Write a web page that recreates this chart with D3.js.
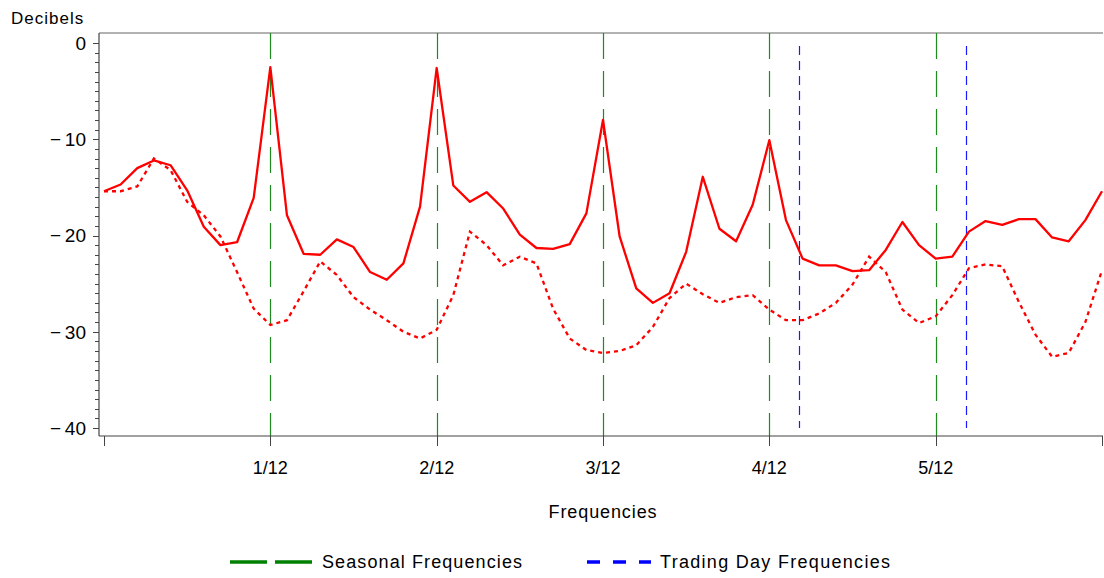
<!DOCTYPE html>
<html>
<head>
<meta charset="utf-8">
<script src="https://cdn.jsdelivr.net/npm/d3@7"></script>
<style>
  body { margin: 0; background: #fff; }
  svg text { font-family: "Liberation Sans", Arial, sans-serif; fill: #000; }
</style>
</head>
<body>
<svg id="chart" width="1104" height="578"></svg>
<script>
// spectrum values in decibels at frequencies 0, 1/120, ..., 60/120
const freqs = d3.range(61).map(i => i / 120);
const spectrum = [
  -15.4, -14.7, -13.0, -12.2, -12.7, -15.3, -19.1, -21.0, -20.7, -16.1,
  -2.5, -17.9, -21.9, -22.0, -20.4, -21.2, -23.8, -24.6, -22.9, -17.0,
  -2.6, -14.8, -16.5, -15.5, -17.2, -19.9, -21.3, -21.4, -20.9, -17.7,
  -8.0, -20.1, -25.5, -27.0, -26.0, -21.7, -13.9, -19.3, -20.6, -16.8,
  -10.1, -18.4, -22.4, -23.1, -23.1, -23.7, -23.6, -21.5, -18.6, -21.0,
  -22.4, -22.2, -19.6, -18.5, -18.9, -18.3, -18.3, -20.2, -20.6, -18.4,
  -15.4
];
const smoothed = [
  -15.4, -15.4, -14.9, -12.0, -13.2, -16.5, -17.9, -20.1, -23.8, -27.6,
  -29.3, -28.8, -25.8, -22.7, -24.1, -26.4, -27.7, -28.8, -30.0, -30.7,
  -29.8, -26.2, -19.6, -21.0, -23.1, -22.2, -22.9, -27.6, -30.7, -31.9,
  -32.2, -32.0, -31.4, -29.5, -26.5, -25.0, -26.1, -27.0, -26.4, -26.2,
  -27.7, -28.8, -28.8, -28.1, -27.0, -25.1, -22.2, -23.8, -27.7, -29.1,
  -28.4, -26.2, -23.4, -23.0, -23.2, -26.9, -30.3, -32.6, -32.2, -29.0,
  -23.6
];
const seasonalFreqs = [1, 2, 3, 4, 5].map(k => k / 12);
const tradingDayFreqs = [0.348, 0.432];
const xTickValues = [0, 1, 2, 3, 4, 5, 6].map(k => k / 12);
const xTickLabels = ['', '1/12', '2/12', '3/12', '4/12', '5/12', ''];
const yTickValues = [0, -10, -20, -30, -40];

const svg = d3.select('#chart');
const plotLeft = 99, plotRight = 1103, plotTop = 33, plotBottom = 436;

const x = d3.scaleLinear().domain([0, 0.5]).range([104, 1102]);
const y = d3.scaleLinear().domain([-40, 0]).range([428, 43]);

// frame
svg.append('line').attr('x1', plotLeft).attr('x2', plotRight).attr('y1', plotTop).attr('y2', plotTop)
  .attr('stroke', '#666').attr('stroke-width', 1.2);

// reference lines
svg.selectAll('line.seasonal').data(seasonalFreqs).enter().append('line')
  .attr('class', 'seasonal')
  .attr('x1', d => Math.round(x(d)) + 0.5).attr('x2', d => Math.round(x(d)) + 0.5)
  .attr('y1', plotTop).attr('y2', plotBottom)
  .attr('stroke', '#1f8a1f').attr('stroke-width', 1.2)
  .attr('stroke-dasharray', '26,12');

svg.selectAll('line.trading').data(tradingDayFreqs).enter().append('line')
  .attr('class', 'trading')
  .attr('x1', d => Math.round(x(d)) + 0.5).attr('x2', d => Math.round(x(d)) + 0.5)
  .attr('y1', y(0) + 3).attr('y2', y(-40))
  .attr('stroke', '#1a1aff').attr('stroke-width', 1.2)
  .attr('stroke-dasharray', '9,6');

// series
const line = d3.line().x((d, i) => x(freqs[i])).y(d => y(d));

svg.append('path').datum(smoothed)
  .attr('d', line).attr('fill', 'none')
  .attr('stroke', '#ff0000').attr('stroke-width', 2.3)
  .attr('stroke-dasharray', '4,4');

svg.append('path').datum(spectrum)
  .attr('d', line).attr('fill', 'none')
  .attr('stroke', '#ff0000').attr('stroke-width', 2.3)
  .attr('stroke-linejoin', 'round');

// y axis
const yAxis = svg.append('g').attr('transform', `translate(${plotLeft},0)`);
yAxis.append('line').attr('x1', 0).attr('x2', 0).attr('y1', plotTop).attr('y2', plotBottom)
  .attr('stroke', '#444').attr('stroke-width', 1.2);
yAxis.selectAll('line.minor').data(d3.range(-40, 1, 1)).enter().append('line')
  .attr('class', 'minor')
  .attr('x1', -4).attr('x2', 0)
  .attr('y1', d => Math.round(y(d)) + 0.5).attr('y2', d => Math.round(y(d)) + 0.5)
  .attr('stroke', '#444');
yAxis.selectAll('line.major').data(yTickValues).enter().append('line')
  .attr('class', 'major')
  .attr('x1', -6).attr('x2', 0)
  .attr('y1', d => Math.round(y(d)) + 0.5).attr('y2', d => Math.round(y(d)) + 0.5)
  .attr('stroke', '#444');
yAxis.selectAll('text.tick').data(yTickValues).enter().append('text')
  .attr('class', 'tick')
  .attr('x', -13).attr('y', d => y(d)).attr('dy', '0.36em')
  .attr('text-anchor', 'end')
  .style('font-size', '19px')
  .text(d => d === 0 ? '0' : '\u2212' + '\u2009' + Math.abs(d));

// x axis
const xAxis = svg.append('g').attr('transform', `translate(0,${plotBottom})`);
xAxis.append('line').attr('x1', plotLeft).attr('x2', plotRight).attr('y1', 0).attr('y2', 0)
  .attr('stroke', '#444').attr('stroke-width', 1.2);
xAxis.selectAll('line.tick').data(xTickValues).enter().append('line')
  .attr('class', 'tick')
  .attr('x1', d => Math.round(x(d)) + 0.5).attr('x2', d => Math.round(x(d)) + 0.5)
  .attr('y1', 0).attr('y2', 10)
  .attr('stroke', '#444');
xAxis.selectAll('text.tick').data(xTickValues).enter().append('text')
  .attr('class', 'tick')
  .attr('x', d => x(d)).attr('y', 38)
  .attr('text-anchor', 'middle')
  .style('font-size', '18px')
  .text((d, i) => xTickLabels[i]);

// axis titles
svg.append('text').attr('x', 11).attr('y', 24)
  .style('font-size', '17px').style('letter-spacing', '1px')
  .text('Decibels');
svg.append('text').attr('x', 603).attr('y', 518)
  .attr('text-anchor', 'middle')
  .style('font-size', '18px').style('letter-spacing', '0.9px')
  .text('Frequencies');

// legend
const legend = svg.append('g').attr('transform', 'translate(0,562)');
legend.append('line').attr('x1', 230).attr('x2', 312).attr('y1', 0).attr('y2', 0)
  .attr('stroke', '#008000').attr('stroke-width', 3.5).attr('stroke-dasharray', '37,8');
legend.append('text').attr('x', 322).attr('y', 0).attr('dy', '0.35em')
  .style('font-size', '18px').style('letter-spacing', '1.1px')
  .text('Seasonal Frequencies');
legend.append('line').attr('x1', 587).attr('x2', 651).attr('y1', 0).attr('y2', 0)
  .attr('stroke', '#0000ff').attr('stroke-width', 3.5).attr('stroke-dasharray', '13,13');
legend.append('text').attr('x', 660).attr('y', 0).attr('dy', '0.35em')
  .style('font-size', '18px').style('letter-spacing', '1.3px')
  .text('Trading Day Frequencies');
</script>
</body>
</html>
